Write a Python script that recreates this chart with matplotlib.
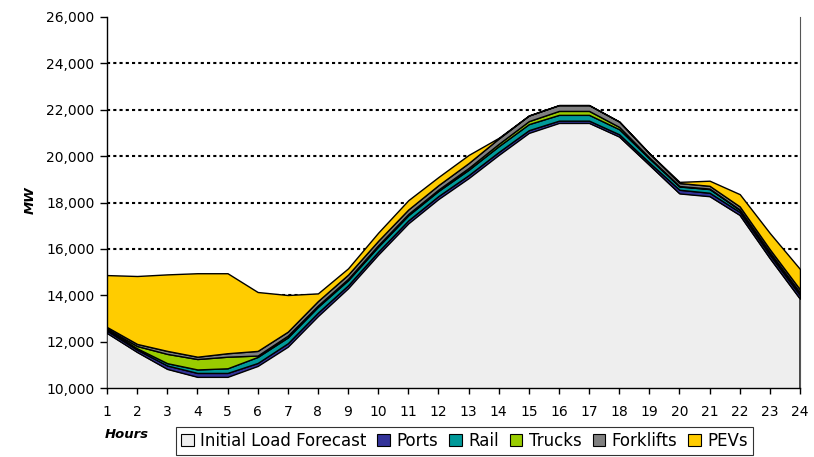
import matplotlib
matplotlib.use("Agg")
import matplotlib.pyplot as plt
from matplotlib.patches import Patch

hours = list(range(1, 25))
base = [12370, 11550, 10820, 10480, 10480, 10950, 11780, 13100, 14300, 15750, 17100, 18150,
        19050, 20050, 21000, 21430, 21430, 20840, 19620, 18390, 18270, 17460, 15600, 13850]
ports = [100, 100, 150, 170, 170, 130, 150, 150, 130, 130, 130, 130,
         130, 130, 120, 100, 100, 100, 100, 160, 150, 130, 140, 150]
rail = [70, 60, 100, 150, 200, 260, 250, 250, 220, 220, 220, 220,
        230, 250, 260, 250, 250, 220, 180, 140, 160, 90, 100, 100]
trucks = [20, 100, 400, 450, 500, 60, 80, 60, 60, 60, 60, 60,
          80, 100, 130, 170, 170, 100, 40, 20, 20, 20, 20, 20]
forklifts = [70, 90, 130, 100, 150, 200, 170, 190, 180, 190, 190, 190,
             210, 230, 240, 250, 250, 230, 180, 130, 120, 130, 120, 130]
pevs = [2240, 2930, 3300, 3600, 3450, 2540, 1580, 330, 270, 350, 400, 350,
        350, 30, 0, 0, 0, 0, 0, 50, 220, 530, 700, 880]

labels = ["Initial Load Forecast", "Ports", "Rail", "Trucks", "Forklifts", "PEVs"]
colors = ["#EEEEEE", "#333399", "#009999", "#99CC00", "#808080", "#FFCC00"]
yticks = list(range(10000, 26001, 2000))

fig = plt.figure(figsize=(8.14, 4.57), dpi=100)
ax = fig.add_axes([107/814, 1-388/457, (800-107)/814, (388-17)/457])

ax.stackplot(hours, base, ports, rail, trucks, forklifts, pevs,
             colors=colors, edgecolor="black", linewidth=1.0, zorder=3)

ax.set_xlim(1, 24)
ax.set_ylim(10000, 26000)
ax.set_yticks(yticks)
ax.set_yticklabels([f"{v:,}" for v in yticks], fontsize=10)
ax.set_xticks(hours)
ax.set_xticklabels([str(h) for h in hours], fontsize=10)
ax.tick_params(axis="y", direction="out", length=5, width=1, pad=4)
ax.tick_params(axis="x", direction="out", length=4, width=1, pad=8)

for v in yticks[1:-1]:
    ax.axhline(v, color="black", linewidth=1.5, linestyle=(0, (1.5, 1.5)), zorder=1)

ax.spines["top"].set_visible(False)
ax.spines["right"].set_color("#555555")
ax.spines["left"].set_linewidth(1)
ax.spines["bottom"].set_linewidth(1)
ax.spines["bottom"].set_zorder(5)

fig.text(30/814, 1-200/457, "MW", rotation=90, fontsize=9.5, fontweight="bold",
         fontstyle="italic", ha="center", va="center")
fig.text(105/814, 1-434/457, "Hours", fontsize=9.5, fontweight="bold",
         fontstyle="italic", ha="left", va="center")

handles = [Patch(facecolor=c, edgecolor="black", linewidth=0.8) for c in colors]
leg = fig.legend(handles, labels, loc="upper left", bbox_to_anchor=(176/814, 1-427/457),
                 ncol=6, frameon=True, fontsize=12, handlelength=0.75, handleheight=0.7,
                 handletextpad=0.4, columnspacing=0.65, borderpad=0.3, fancybox=False,
                 borderaxespad=0)
leg.get_frame().set_edgecolor("black")
leg.get_frame().set_linewidth(0.8)

fig.savefig("out.png", dpi=100)
